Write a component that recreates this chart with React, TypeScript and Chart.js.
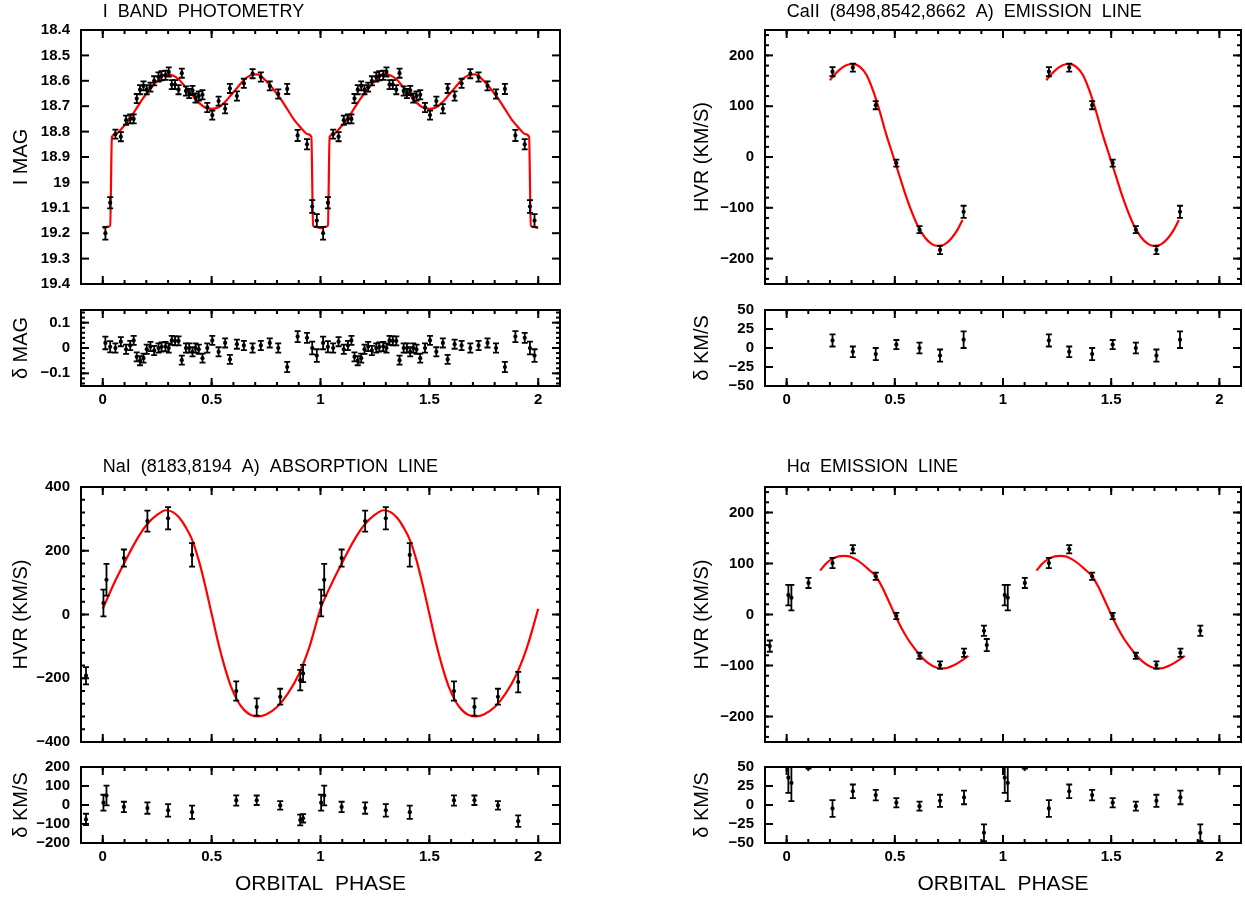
import { useEffect, useRef } from 'react';
import { Chart, registerables } from 'chart.js';

Chart.register(...registerables);

const FAMILY = "'Liberation Sans', Arial, sans-serif";

// ---------------- shared ----------------
const phaseTicks = [0, 0.5, 1, 1.5, 2];

// ---------------- I band photometry (one cycle, plotted twice) ----------------
const iPhase = [0.012, 0.034, 0.058, 0.083, 0.107, 0.126, 0.142, 0.156, 0.171, 0.187, 0.202, 0.219, 0.236, 0.256, 0.27, 0.288, 0.303, 0.317, 0.332, 0.348, 0.363, 0.382, 0.397, 0.412, 0.426, 0.441, 0.458, 0.48, 0.503, 0.532, 0.562, 0.584, 0.616, 0.648, 0.688, 0.726, 0.767, 0.806, 0.847, 0.895, 0.938, 0.962, 0.983];
const iMag = [19.2, 19.08, 18.81, 18.82, 18.755, 18.75, 18.75, 18.67, 18.635, 18.62, 18.635, 18.625, 18.6, 18.585, 18.58, 18.578, 18.565, 18.615, 18.615, 18.635, 18.57, 18.64, 18.65, 18.638, 18.668, 18.66, 18.655, 18.705, 18.735, 18.68, 18.71, 18.63, 18.66, 18.61, 18.572, 18.585, 18.62, 18.652, 18.632, 18.815, 18.85, 19.095, 19.15];
const iMagErr = [0.025, 0.022, 0.018, 0.018, 0.018, 0.018, 0.018, 0.018, 0.018, 0.018, 0.018, 0.018, 0.018, 0.018, 0.018, 0.018, 0.018, 0.018, 0.018, 0.018, 0.018, 0.018, 0.018, 0.018, 0.018, 0.018, 0.018, 0.018, 0.018, 0.018, 0.018, 0.018, 0.018, 0.018, 0.018, 0.018, 0.018, 0.018, 0.02, 0.022, 0.02, 0.025, 0.025];
const iResid = [0.02, 0.005, 0.0, 0.025, -0.005, 0.01, 0.03, -0.035, -0.05, -0.04, -0.005, 0.006, -0.01, 0.0, 0.004, 0.006, 0.0, 0.03, 0.028, 0.028, -0.048, 0.0, 0.0, -0.015, 0.0, -0.005, -0.04, 0.0, 0.03, -0.015, 0.02, -0.045, 0.015, 0.01, 0.0, 0.01, 0.02, 0.0, -0.075, 0.045, 0.04, 0.0, -0.03];
const iCurvePhase = [0, 0.02, 0.034, 0.042, 0.06, 0.08, 0.1, 0.12, 0.15, 0.18, 0.21, 0.24, 0.27, 0.29, 0.32, 0.35, 0.38, 0.41, 0.44, 0.47, 0.5, 0.53, 0.56, 0.59, 0.62, 0.65, 0.68, 0.71, 0.73, 0.76, 0.79, 0.82, 0.85, 0.88, 0.9, 0.92, 0.94, 0.958, 0.966, 0.98];
const iCurveMag = [19.18, 19.175, 19.17, 18.82, 18.81, 18.795, 18.775, 18.755, 18.715, 18.675, 18.64, 18.61, 18.585, 18.575, 18.578, 18.595, 18.625, 18.655, 18.685, 18.705, 18.71, 18.705, 18.685, 18.655, 18.625, 18.595, 18.578, 18.575, 18.585, 18.61, 18.64, 18.675, 18.715, 18.755, 18.775, 18.795, 18.81, 18.82, 19.17, 19.175];
const iMagTicks = [18.4, 18.5, 18.6, 18.7, 18.8, 18.9, 19, 19.1, 19.2, 19.3, 19.4];
const iResTicks = [-0.1, 0, 0.1];

// ---------------- CaII emission ----------------
const caPhase = [0.212, 0.306, 0.412, 0.507, 0.614, 0.709, 0.818, 1.212, 1.306, 1.412, 1.507, 1.614, 1.709, 1.818];
const caVel = [168, 176, 102, -12, -143, -183, -108, 168, 176, 102, -12, -143, -183, -108];
const caErr = [9, 8, 8, 7, 7, 8, 12, 9, 8, 8, 7, 7, 8, 12];
const caRes = [10, -5, -8, 4.5, 0, -10, 11, 10, -5, -8, 4.5, 0, -10, 11];
const caResErr = [8, 7, 8, 6, 7, 8, 11, 8, 7, 8, 6, 7, 8, 11];
const caCurvePhase = [0.2, 0.23, 0.26, 0.29, 0.31, 0.34, 0.37, 0.4, 0.43, 0.46, 0.49, 0.52, 0.55, 0.58, 0.61, 0.64, 0.67, 0.7, 0.73, 0.76, 0.79, 0.813];
const caCurveVel = [151, 166, 177, 182.5, 183, 177, 161, 130, 90, 45, 5, -35, -75, -110, -139, -159, -171, -175, -172, -161, -143, -124];

// ---------------- NaI absorption ----------------
const naPhase = [-0.077, 0.003, 0.017, 0.097, 0.205, 0.3, 0.41, 0.613, 0.707, 0.815, 0.907, 0.92, 1.003, 1.017, 1.097, 1.205, 1.3, 1.41, 1.613, 1.707, 1.815, 1.908];
const naVel = [-192, 36, 109, 177, 293, 302, 187, -240, -290, -258, -206, -185, 36, 109, 177, 293, 302, 187, -240, -290, -258, -212];
const naErr = [27, 42, 50, 27, 33, 35, 37, 30, 27, 25, 32, 27, 42, 50, 27, 33, 35, 37, 30, 27, 25, 32];
const naRes = [-76, 12, 50, -10, -16, -28, -38, 24, 25, -2, -79, -70, 12, 50, -10, -16, -28, -38, 24, 25, -2, -85];
const naResErr = [30, 42, 52, 27, 30, 33, 35, 27, 25, 22, 28, 22, 42, 52, 27, 30, 33, 35, 27, 25, 22, 30];
const naCurvePhase = [0, 0.05, 0.1, 0.15, 0.2, 0.25, 0.29, 0.32, 0.35, 0.38, 0.41, 0.44, 0.47, 0.5, 0.53, 0.56, 0.59, 0.62, 0.65, 0.68, 0.715, 0.75, 0.8, 0.85, 0.9, 0.95];
const naCurveVel = [18, 95, 163, 228, 280, 313, 327, 322, 305, 275, 235, 172, 92, 2, -88, -165, -228, -272, -300, -315, -320, -314, -290, -248, -188, -100];

// ---------------- H-alpha emission ----------------
const haPhase = [-0.078, 0.008, 0.022, 0.101, 0.212, 0.306, 0.412, 0.507, 0.614, 0.709, 0.82, 0.912, 0.925, 1.008, 1.022, 1.101, 1.212, 1.306, 1.412, 1.507, 1.614, 1.709, 1.82, 1.912];
const haVel = [-62, 38, 33, 62, 101, 128, 75, -3, -81, -99, -75, -32, -60, 38, 33, 62, 101, 128, 75, -3, -81, -99, -75, -32];
const haErr = [11, 20, 25, 10, 10, 8, 7, 6, 6, 7, 8, 10, 12, 20, 25, 10, 10, 8, 7, 6, 6, 7, 8, 10];
const haResPhase = [0.008, 0.022, 0.101, 0.212, 0.306, 0.412, 0.507, 0.614, 0.709, 0.82, 0.912, 1.008, 1.022, 1.101, 1.212, 1.306, 1.412, 1.507, 1.614, 1.709, 1.82, 1.912];
const haRes = [36, 29, 58, -4.5, 18, 13, 3, -1.5, 5.5, 10, -36.5, 36, 29, 58, -4.5, 18, 13, 3, -1.5, 5.5, 10, -36.5];
const haResErr = [20, 24, 10, 11, 9, 7, 6, 6, 8, 9, 11, 20, 24, 10, 11, 9, 7, 6, 6, 8, 9, 11];
const haCurvePhase = [0.155, 0.18, 0.21, 0.24, 0.265, 0.29, 0.32, 0.35, 0.38, 0.41, 0.44, 0.47, 0.5, 0.53, 0.56, 0.59, 0.62, 0.65, 0.68, 0.71, 0.74, 0.77, 0.8, 0.84];
const haCurveVel = [86, 99, 109, 114, 115, 114, 108, 99, 88, 76, 55, 28, 0, -26, -48, -66, -82, -94, -102, -106, -105, -100, -93, -81];

const velTicks250 = [-200, -100, 0, 100, 200];
const velTicks400 = [-400, -200, 0, 200, 400];
const resTicks50 = [-50, -25, 0, 25, 50];
const resTicks200 = [-200, -100, 0, 100, 200];

// ---------------- helpers ----------------
type XY = { x: number; y: number };
type EP = { x: number; y: number; e: number };

const pts = (xs: number[], ys: number[], es: number[]): EP[] => xs.map((x, i) => ({ x, y: ys[i], e: es[i] }));
const line = (xs: number[], ys: number[], shift = 0): XY[] => xs.map((x, i) => ({ x: x + shift, y: ys[i] }));
// phase-folded data shown over two cycles
const twoCycles = (xs: number[], ys: number[], es: number[]): EP[] => [...pts(xs, ys, es), ...pts(xs.map((x) => x + 1), ys, es)];
const fullCurve = (xs: number[], ys: number[]): XY[] => [...line(xs, ys), ...line(xs, ys, 1), { x: 2, y: ys[0] }];

const fmt = (v: number) => {
  const r = Math.round(v * 1000) / 1000;
  if (r === 0) return '0';
  return r < 0 ? '\u2212' + String(-r) : String(r);
};

const steps = (lo: number, hi: number, st: number) => {
  const out: number[] = [];
  const s = Math.ceil(lo / st - 1e-9);
  const e = Math.floor(hi / st + 1e-9);
  for (let k = s; k <= e; k++) out.push(k * st);
  return out;
};

interface Panel {
  id: string;
  left: number; top: number; width: number; height: number;
  padTop: number; padRight: number; padBottom: number;
  yWidth: number; yMin: number; yMax: number; reverse?: boolean;
  yTicks: number[]; yMinor?: number; yTitle: string; yTitlePad: number;
  xLabels: boolean; xHeight?: number; xTitle?: string;
  title?: string; titleOffset?: number;
  points: EP[]; curves: XY[][];
}

const LEFT = { left: 0, width: 570, yWidth: 81, padRight: 10, yTitlePad: 9 };
const RIGHT = { left: 680, width: 565, yWidth: 85, padRight: 4, yTitlePad: 10 };
const TOP_MAIN = { top: 0, height: 294, padTop: 30, padBottom: 10, titleOffset: 18 };
const TOP_RES = { top: 290, height: 126, padTop: 20, padBottom: 0, xHeight: 30 };
const BOT_MAIN = { top: 440, height: 312, padTop: 47, padBottom: 10, titleOffset: 20 };
const BOT_RES = { top: 750, height: 150, padTop: 17, padBottom: 0, xHeight: 57 };

const PANELS: Panel[] = [
  {
    id: 'imain', ...LEFT, ...TOP_MAIN,
    yMin: 18.4, yMax: 19.4, reverse: true, yTicks: iMagTicks, yTitle: 'I MAG',
    xLabels: false, title: 'I  BAND  PHOTOMETRY',
    points: twoCycles(iPhase, iMag, iMagErr), curves: [fullCurve(iCurvePhase, iCurveMag)],
  },
  {
    id: 'ires', ...LEFT, ...TOP_RES,
    yMin: -0.15, yMax: 0.15, yTicks: iResTicks, yMinor: 0.02, yTitle: '\u03b4 MAG',
    xLabels: true,
    points: twoCycles(iPhase, iResid, iMagErr), curves: [],
  },
  {
    id: 'camain', ...RIGHT, ...TOP_MAIN,
    yMin: -250, yMax: 250, yTicks: velTicks250, yMinor: 20, yTitle: 'HVR (KM/S)',
    xLabels: false, title: 'CaII  (8498,8542,8662  A)  EMISSION  LINE',
    points: pts(caPhase, caVel, caErr),
    curves: [line(caCurvePhase, caCurveVel), line(caCurvePhase, caCurveVel, 1)],
  },
  {
    id: 'cares', ...RIGHT, ...TOP_RES,
    yMin: -50, yMax: 50, yTicks: resTicks50, yTitle: '\u03b4 KM/S',
    xLabels: true,
    points: pts(caPhase, caRes, caResErr), curves: [],
  },
  {
    id: 'namain', ...LEFT, ...BOT_MAIN,
    yMin: -400, yMax: 400, yTicks: velTicks400, yMinor: 40, yTitle: 'HVR (KM/S)',
    xLabels: false, title: 'NaI  (8183,8194  A)  ABSORPTION  LINE',
    points: pts(naPhase, naVel, naErr), curves: [fullCurve(naCurvePhase, naCurveVel)],
  },
  {
    id: 'nares', ...LEFT, ...BOT_RES,
    yMin: -200, yMax: 200, yTicks: resTicks200, yTitle: '\u03b4 KM/S',
    xLabels: true, xTitle: 'ORBITAL  PHASE',
    points: pts(naPhase, naRes, naResErr), curves: [],
  },
  {
    id: 'hamain', ...RIGHT, ...BOT_MAIN,
    yMin: -250, yMax: 250, yTicks: velTicks250, yMinor: 20, yTitle: 'HVR (KM/S)',
    xLabels: false, title: 'H\u03b1  EMISSION  LINE',
    points: pts(haPhase, haVel, haErr),
    curves: [line(haCurvePhase, haCurveVel), line(haCurvePhase, haCurveVel, 1)],
  },
  {
    id: 'hares', ...RIGHT, ...BOT_RES,
    yMin: -50, yMax: 50, yTicks: resTicks50, yTitle: '\u03b4 KM/S',
    xLabels: true, xTitle: 'ORBITAL  PHASE',
    points: pts(haResPhase, haRes, haResErr), curves: [],
  },
];

// ---------------- plugins ----------------
const errorBarPlugin = {
  id: 'errbars',
  afterDatasetsDraw(chart: any) {
    const { ctx, chartArea: a, scales } = chart;
    const xs = scales.x, ys = scales.y;
    ctx.save();
    ctx.beginPath();
    ctx.rect(a.left, a.top, a.right - a.left, a.bottom - a.top);
    ctx.clip();
    ctx.strokeStyle = '#000';
    ctx.lineWidth = 1.8;
    chart.data.datasets.forEach((ds: any) => {
      const errs = ds.errors;
      if (!errs) return;
      ds.data.forEach((d: XY, i: number) => {
        const px = xs.getPixelForValue(d.x);
        const y1 = ys.getPixelForValue(d.y - errs[i]);
        const y2 = ys.getPixelForValue(d.y + errs[i]);
        ctx.beginPath();
        ctx.moveTo(px, y1); ctx.lineTo(px, y2);
        ctx.moveTo(px - 3, y1); ctx.lineTo(px + 3, y1);
        ctx.moveTo(px - 3, y2); ctx.lineTo(px + 3, y2);
        ctx.stroke();
      });
    });
    ctx.restore();
  },
};

const framePlugin = {
  id: 'frame',
  afterDraw(chart: any, _args: any, o: any) {
    const { ctx, chartArea: a, scales } = chart;
    const xs = scales.x, ys = scales.y;
    ctx.save();
    ctx.strokeStyle = '#000';
    ctx.lineWidth = 2;
    const seg = (x1: number, y1: number, x2: number, y2: number) => {
      ctx.beginPath(); ctx.moveTo(x1, y1); ctx.lineTo(x2, y2); ctx.stroke();
    };
    const inside = (v: number, lo: number, hi: number) => v > lo + 1.5 && v < hi - 1.5;
    const xTick = (v: number, len: number) => {
      const px = xs.getPixelForValue(v);
      if (!inside(px, a.left, a.right)) return;
      seg(px, a.bottom, px, a.bottom - len);
      seg(px, a.top, px, a.top + len);
    };
    const yTick = (v: number, len: number) => {
      const py = ys.getPixelForValue(v);
      if (!inside(py, a.top, a.bottom)) return;
      seg(a.left, py, a.left + len, py);
      seg(a.right, py, a.right - len, py);
    };
    steps(xs.min, xs.max, 0.1).forEach((v) => xTick(v, 4));
    o.xMajor.forEach((v: number) => xTick(v, 8));
    if (o.yMinor) steps(ys.min, ys.max, o.yMinor).forEach((v) => yTick(v, 4));
    o.yMajor.forEach((v: number) => yTick(v, 8));
    ctx.strokeRect(a.left, a.top, a.right - a.left, a.bottom - a.top);
    if (o.title) {
      ctx.fillStyle = '#000';
      ctx.font = `18px ${FAMILY}`;
      ctx.textAlign = 'left';
      ctx.textBaseline = 'middle';
      ctx.fillText(o.title, xs.getPixelForValue(0), a.top - o.titleOffset);
    }
    ctx.restore();
  },
};

const tickFont = { family: FAMILY, size: 15, weight: 'bold' as const };

function buildConfig(p: Panel): any {
  const datasets: any[] = [];
  p.curves.forEach((c) =>
    datasets.push({
      type: 'line', data: c, borderColor: '#ff0000', borderWidth: 2.2, pointRadius: 0,
      fill: false, cubicInterpolationMode: 'monotone', order: 2,
    })
  );
  datasets.push({
    type: 'scatter',
    data: p.points.map((q) => ({ x: q.x, y: q.y })),
    errors: p.points.map((q) => q.e),
    pointRadius: 2.1, pointHoverRadius: 2.1,
    backgroundColor: '#000', borderColor: '#000', borderWidth: 0, order: 1,
  });
  return {
    type: 'scatter',
    data: { datasets },
    plugins: [errorBarPlugin, framePlugin],
    options: {
      animation: false,
      responsive: false,
      maintainAspectRatio: false,
      devicePixelRatio: 1,
      events: [],
      layout: { padding: { top: p.padTop, right: p.padRight, bottom: p.padBottom, left: 0 } },
      plugins: {
        legend: { display: false },
        tooltip: { enabled: false },
        frame: {
          xMajor: phaseTicks, yMajor: p.yTicks, yMinor: p.yMinor,
          title: p.title, titleOffset: p.titleOffset,
        },
      },
      scales: {
        x: {
          type: 'linear', min: -0.1, max: 2.1, display: p.xLabels,
          grid: { display: false, drawTicks: true, tickLength: 5 },
          border: { display: false },
          afterBuildTicks: (s: any) => { s.ticks = phaseTicks.map((v) => ({ value: v })); },
          afterFit: (s: any) => { if (p.xLabels) s.height = p.xHeight; },
          ticks: { autoSkip: false, maxRotation: 0, padding: 0, color: '#000', font: tickFont, callback: (v: any) => fmt(Number(v)) },
          title: {
            display: !!p.xTitle, text: p.xTitle || '', color: '#000',
            font: { family: FAMILY, size: 21 }, padding: { top: 0, bottom: 3 },
          },
        },
        y: {
          type: 'linear', min: p.yMin, max: p.yMax, reverse: !!p.reverse,
          grid: { display: false, drawTicks: true, tickLength: 11 },
          border: { display: false },
          afterBuildTicks: (s: any) => { s.ticks = p.yTicks.map((v) => ({ value: v })); },
          afterFit: (s: any) => { s.width = p.yWidth; },
          ticks: { autoSkip: false, padding: 0, color: '#000', font: tickFont, callback: (v: any) => fmt(Number(v)) },
          title: {
            display: true, text: p.yTitle, color: '#000',
            font: { family: FAMILY, size: 20 }, padding: { top: p.yTitlePad, bottom: 0 },
          },
        },
      },
    },
  };
}

export default function App() {
  const refs = useRef<(HTMLCanvasElement | null)[]>([]);
  useEffect(() => {
    const charts = PANELS.map((p, i) => new Chart(refs.current[i] as HTMLCanvasElement, buildConfig(p)));
    return () => charts.forEach((c) => c.destroy());
  }, []);
  return (
    <div style={{ position: 'fixed', left: 0, top: 0, width: 1245, height: 900, background: '#fff', overflow: 'hidden' }}>
      {PANELS.map((p, i) => (
        <canvas
          key={p.id}
          ref={(el) => { refs.current[i] = el; }}
          width={p.width}
          height={p.height}
          style={{ position: 'absolute', left: p.left, top: p.top, width: p.width, height: p.height }}
        />
      ))}
    </div>
  );
}
